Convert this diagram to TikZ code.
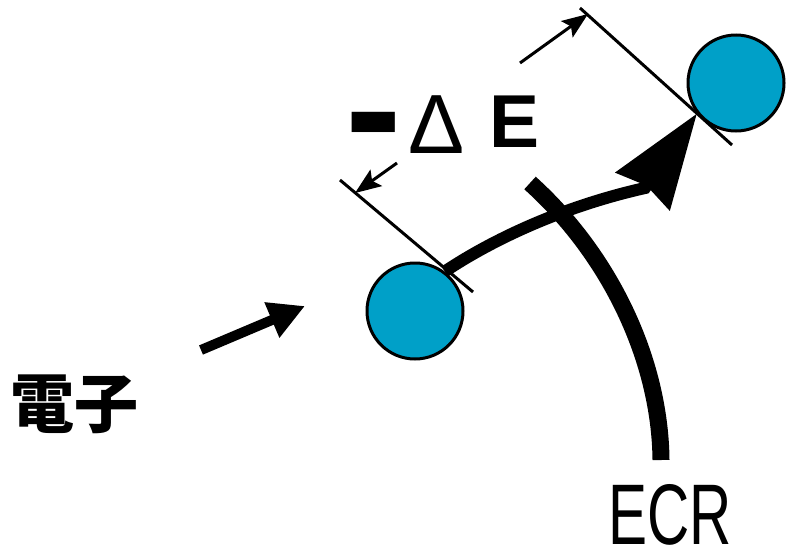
\documentclass[tikz,border=0pt]{standalone}
\usepackage{fontspec}
\usetikzlibrary{arrows.meta}
\newfontfamily\jpfont{Noto Sans CJK JP}
\newfontfamily\lsans{Liberation Sans}
\newfontfamily\lsanscond{Liberation Sans}[FakeStretch=0.68]
\definecolor{eblue}{RGB}{0,160,200}
\tikzset{
  electron/.style={circle, draw=black, line width=3pt, fill=eblue, minimum size=96pt, inner sep=0pt},
  dimline/.style={line width=3pt, black},
  dimarrow/.style={line width=3pt, black, -{Stealth[length=26pt, width=20pt, inset=5pt]}},
  mainarrow/.style={line width=12pt, black, -{Stealth[length=94pt, width=64pt, inset=6pt]}},
  inarrow/.style={line width=10pt, black, -{Triangle[length=36pt, width=36pt]}},
  ecrarc/.style={line width=17pt, black},
  lbl/.style={inner sep=0pt, text=black}
}
\begin{document}
\begin{tikzpicture}[x=1pt, y=-1pt]
\useasboundingbox[fill=white] (0,0) rectangle (786,557);
% dimension lines
\coordinate (d1a) at (340,180);
\coordinate (d1b) at (473,292);
\coordinate (d2a) at (580,8);
\coordinate (d2b) at (732,145);
\draw[dimline] (d1a) -- (d1b);
\draw[dimline] (d2a) -- (d2b);
% electrons
\node[electron] (e1) at (415,311) {};
\node[electron] (e2) at (736,83) {};
% dimension arrows
\coordinate (a1t) at (397,163);
\coordinate (a1h) at (355,193);
\coordinate (a2t) at (520,63);
\coordinate (a2h) at (588,14);
\draw[dimarrow] (a1t) -- (a1h);
\draw[dimarrow] (a2t) -- (a2h);
% label
\node[lbl, anchor=base west] (dE) at (345,147)
  {{\lsans\bfseries\fontsize{170pt}{170pt}\selectfont\raisebox{-19pt}{-}}\hspace{7pt}{\lsans\fontsize{84pt}{84pt}\selectfont\raisebox{-6pt}{Δ}}\hspace{25pt}{\lsans\bfseries\fontsize{75pt}{75pt}\selectfont E}};
% ECR arc
\draw[ecrarc] (530,183) .. controls (610,255) and (660,360) .. (661,460);
% main trajectory arrow
\coordinate (ahb) at (645,188);
\draw[mainarrow] (e1.53) .. controls (495,238) and (565,206) .. (ahb) -- (e2.218);
% incoming electron arrow
\coordinate (eTail) at (201,350);
\coordinate (eTip) at (305,306);
\draw[inarrow] (eTail) -- (eTip);
% texts
\node[lbl, font=\jpfont\bfseries\fontsize{64pt}{64pt}\selectfont] (el) at (74,404) {電子};
\node[lbl, font=\lsanscond\fontsize{86pt}{86pt}\selectfont] (ecr) at (670,515) {ECR};
\end{tikzpicture}
\end{document}
